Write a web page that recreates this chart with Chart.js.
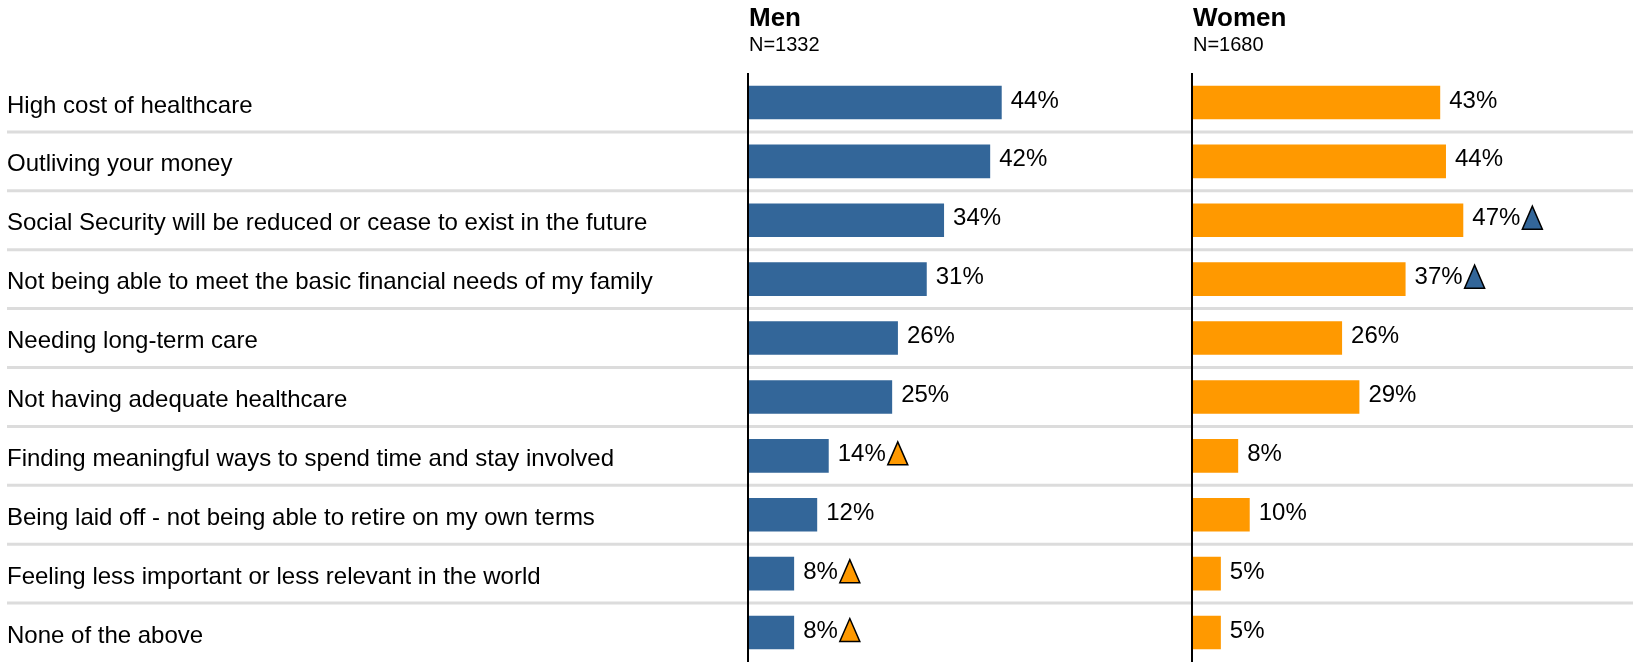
<!DOCTYPE html>
<html>
<head>
<meta charset="utf-8">
<script src="https://cdn.jsdelivr.net/npm/chart.js@4/dist/chart.umd.min.js"></script>
<style>
  html, body { margin: 0; padding: 0; background: #ffffff; }
  #wrap { width: 1633px; height: 662px; }
</style>
</head>
<body>
<div id="wrap"><canvas id="c" width="1633" height="662"></canvas></div>
<script>
// Retirement concerns, by gender
const categories = [
  'High cost of healthcare',
  'Outliving your money',
  'Social Security will be reduced or cease to exist in the future',
  'Not being able to meet the basic financial needs of my family',
  'Needing long-term care',
  'Not having adequate healthcare',
  'Finding meaningful ways to spend time and stay involved',
  'Being laid off - not being able to retire on my own terms',
  'Feeling less important or less relevant in the world',
  'None of the above'
];
const menValues   = [44, 42, 34, 31, 26, 25, 14, 12, 8, 8];
const womenValues = [43, 44, 47, 37, 26, 29, 8, 10, 5, 5];
// significantly higher than the other group
const menHigher   = [false, false, false, false, false, false, true, false, true, true];
const womenHigher = [false, false, true, true, false, false, false, false, false, false];
const groupTitles = ['Men', 'Women'];
const groupSizes  = ['N=1332', 'N=1680'];

const BLUE = '#336699';
const ORANGE = '#ff9900';
const FONT = '"Liberation Sans", Arial, Helvetica, sans-serif';

// light rules between the rows, plus the row labels
const rows = {
  id: 'rows',
  beforeDatasetsDraw(chart) {
    const y = chart.scales.y;
    const ctx = chart.ctx;
    ctx.save();
    ctx.strokeStyle = '#dcdcdc';
    ctx.lineWidth = 3;
    for (let i = 0; i < categories.length - 1; i++) {
      const yy = (y.getPixelForValue(i) + y.getPixelForValue(i + 1)) / 2;
      ctx.beginPath();
      ctx.moveTo(7, yy);
      ctx.lineTo(chart.width, yy);
      ctx.stroke();
    }
    ctx.font = '24px ' + FONT;
    ctx.fillStyle = '#000';
    ctx.textAlign = 'left';
    ctx.textBaseline = 'middle';
    categories.forEach((c, i) => {
      ctx.fillText(c, y.left, y.getPixelForValue(i) + 3.5);
    });
    ctx.restore();
  }
};

// zero lines, value labels, triangles and panel headings
const decorations = {
  id: 'decorations',
  afterDatasetsDraw(chart) {
    const ctx = chart.ctx;
    const area = chart.chartArea;
    const flags = [menHigher, womenHigher];
    const markColors = [ORANGE, BLUE];
    ctx.save();
    chart.data.datasets.forEach((ds, di) => {
      const meta = chart.getDatasetMeta(di);
      const xs = chart.scales[ds.xAxisID];
      const x0 = xs.getPixelForValue(0);

      // zero line
      ctx.strokeStyle = '#000';
      ctx.lineWidth = 2;
      ctx.beginPath();
      ctx.moveTo(x0, area.top);
      ctx.lineTo(x0, area.bottom);
      ctx.stroke();

      // value labels
      ctx.font = '24px ' + FONT;
      ctx.textAlign = 'left';
      ctx.textBaseline = 'middle';
      meta.data.forEach((bar, i) => {
        const txt = ds.data[i] + '%';
        const tx = bar.x + 9;
        ctx.fillStyle = '#000';
        ctx.fillText(txt, tx, bar.y - 1.5);
        if (flags[di][i]) {
          const w = ctx.measureText(txt).width;
          const left = tx + w + 2;
          const base = bar.y + 9;
          ctx.beginPath();
          ctx.moveTo(left, base);
          ctx.lineTo(left + 20, base);
          ctx.lineTo(left + 10, base - 23);
          ctx.closePath();
          ctx.fillStyle = markColors[di];
          ctx.fill();
          ctx.strokeStyle = '#000';
          ctx.lineWidth = 1.5;
          ctx.lineJoin = 'miter';
          ctx.stroke();
        }
      });

      // headings
      ctx.fillStyle = '#000';
      ctx.textBaseline = 'alphabetic';
      ctx.font = 'bold 26px ' + FONT;
      ctx.fillText(groupTitles[di], x0 + 1, 26);
      ctx.font = '20px ' + FONT;
      ctx.fillText(groupSizes[di], x0 + 1, 51);
    });
    ctx.restore();
  }
};

const hiddenX = (weight, max) => ({
  type: 'linear',
  position: 'bottom',
  stack: 'panels',
  stackWeight: weight,
  min: 0,
  max: max,
  display: true,
  grid: { display: false, drawTicks: false },
  border: { display: false },
  ticks: { display: false },
  afterFit(scale) { scale.height = 0; }
});

new Chart(document.getElementById('c'), {
  type: 'bar',
  data: {
    labels: categories,
    datasets: [
      { label: groupTitles[0], data: menValues, xAxisID: 'xMen', backgroundColor: BLUE },
      { label: groupTitles[1], data: womenValues, xAxisID: 'xWomen', backgroundColor: ORANGE }
    ]
  },
  options: {
    indexAxis: 'y',
    responsive: false,
    animation: false,
    devicePixelRatio: 1,
    datasets: {
      bar: { grouped: false, categoryPercentage: 1, barPercentage: 0.57, borderWidth: 0 }
    },
    layout: { padding: { top: 73, left: 7, right: 0, bottom: 0 } },
    plugins: { legend: { display: false }, tooltip: { enabled: false } },
    scales: {
      y: {
        type: 'category',
        position: 'left',
        grid: { display: false, drawTicks: false },
        border: { display: false },
        ticks: { display: false, autoSkip: false },
        afterFit(scale) { scale.width = 741; }
      },
      xMen: hiddenX(444, 77),
      xWomen: hiddenX(441, 76.4)
    }
  },
  plugins: [rows, decorations]
});
</script>
</body>
</html>
